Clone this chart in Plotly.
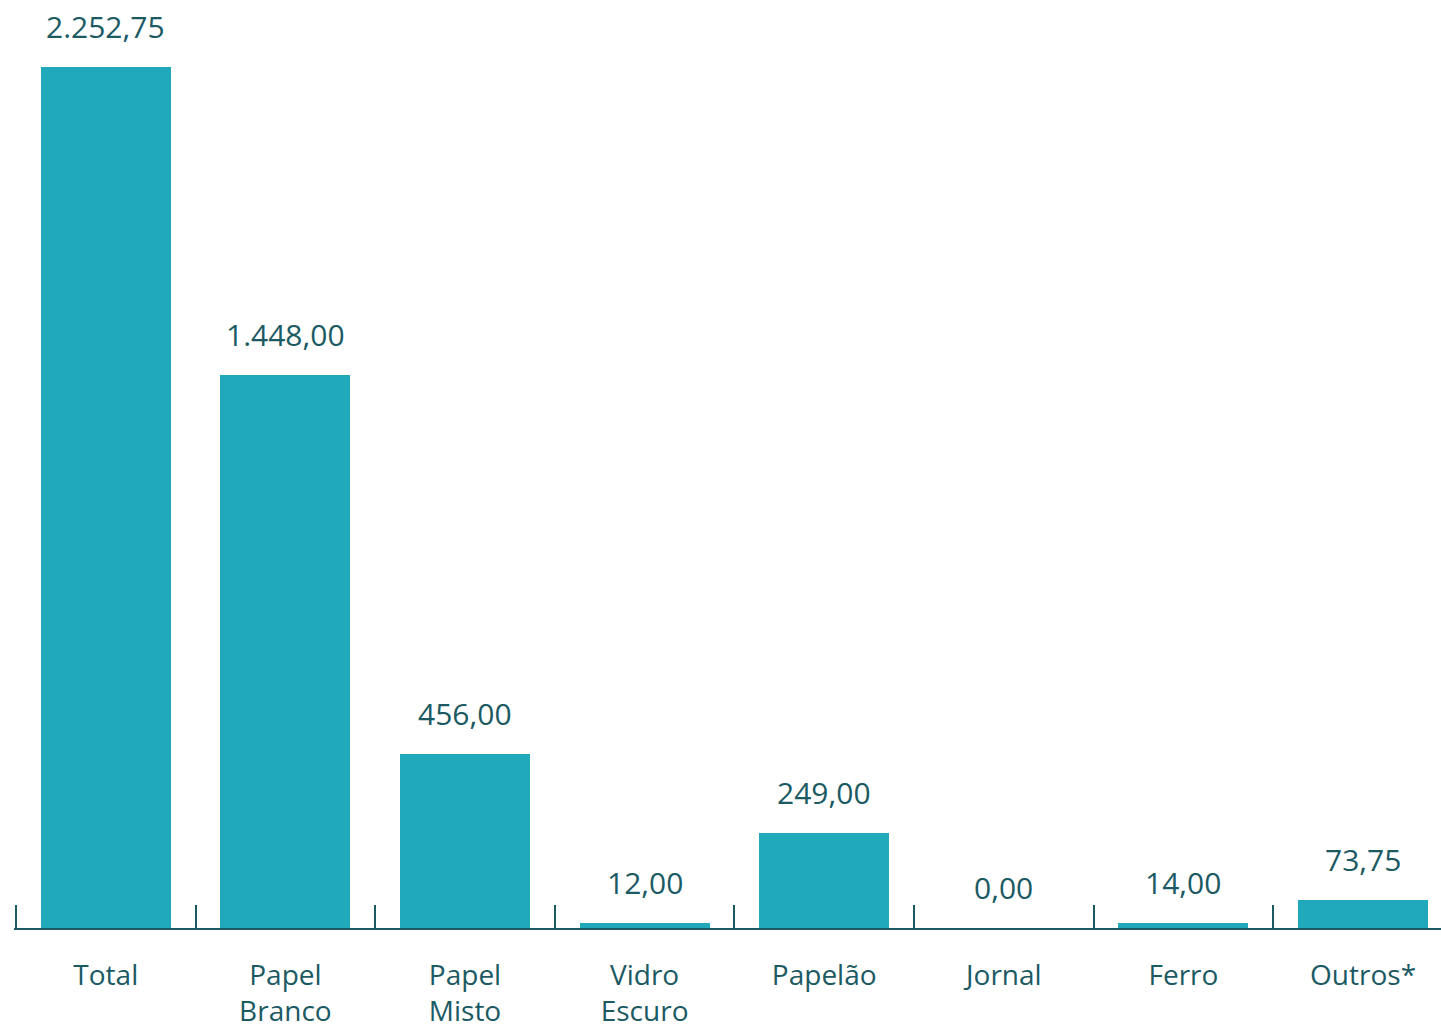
import plotly.graph_objects as go

categories = ["Total", "Papel<br>Branco", "Papel<br>Misto", "Vidro<br>Escuro",
              "Papelão", "Jornal", "Ferro", "Outros*"]
values = [2252.75, 1448.00, 456.00, 12.00, 249.00, 0.00, 14.00, 73.75]
value_labels = ["2.252,75", "1.448,00", "456,00", "12,00",
                "249,00", "0,00", "14,00", "73,75"]

BAR = "#1FA9BA"
INK = "#1B5A63"
FONT = "Open Sans, Noto Sans, sans-serif"

fig = go.Figure(go.Bar(
    x=categories, y=values, marker=dict(color=BAR, line=dict(width=0)),
    width=0.724, hoverinfo="skip",
))

for cat, v, lab in zip(categories, values, value_labels):
    fig.add_annotation(x=cat, y=v, text=lab, showarrow=False,
                       yanchor="bottom", yshift=18,
                       font=dict(family=FONT, size=30, color=INK))

fig.update_layout(
    width=1441, height=1029,
    margin=dict(l=14, r=0, t=0, b=101),
    paper_bgcolor="white", plot_bgcolor="white",
    showlegend=False,
    bargap=0,
)
fig.update_xaxes(
    type="category",
    range=[-0.511, 7.434],
    tickson="boundaries", ticks="inside", ticklen=23,
    tickcolor=INK, tickwidth=1.5,
    showline=True, linecolor=INK, linewidth=2,
    showgrid=False, zeroline=False, automargin=False,
    tickfont=dict(family=FONT, size=28, color=INK),
    ticklabelstandoff=21,
)
fig.update_yaxes(range=[0, 2428], visible=False, showgrid=False, zeroline=False)

fig.write_html("out.html")
